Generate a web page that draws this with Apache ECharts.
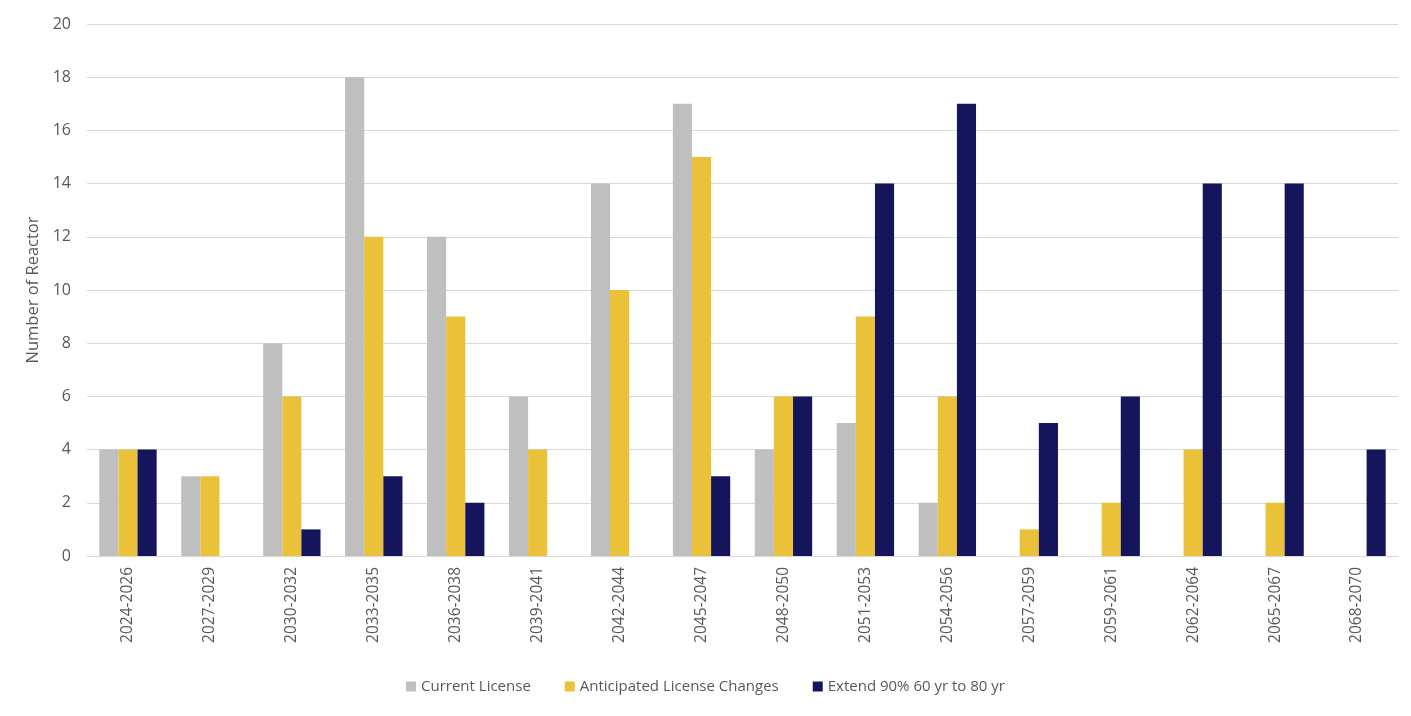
<!DOCTYPE html>
<html><head><meta charset="utf-8">
<script src="https://cdn.jsdelivr.net/npm/echarts@6/dist/echarts.min.js"></script>
<style>html,body{margin:0;padding:0;background:#fff}#c{width:1411px;height:716px}</style>
</head><body><div id="c"></div>
<script>
const categories = ["2024-2026","2027-2029","2030-2032","2033-2035","2036-2038","2039-2041","2042-2044","2045-2047","2048-2050","2051-2053","2054-2056","2057-2059","2059-2061","2062-2064","2065-2067","2068-2070"];
const currentLicense = [4,3,8,18,12,6,14,17,4,5,2,0,0,0,0,0];
const anticipated = [4,3,6,12,9,4,10,15,6,9,6,1,2,4,2,0];
const extend90 = [4,0,1,3,2,0,0,3,6,14,17,5,6,14,14,4];
const yTicks = {min:0,max:20,interval:2};
const font = "'Open Sans', 'Liberation Sans', sans-serif";
const chart = echarts.init(document.getElementById('c'));
chart.setOption({
  animation:false,
  textStyle:{fontFamily:font},
  grid:{left:87,right:13,top:24,bottom:160},
  legend:{bottom:17,left:'center',itemWidth:10,itemHeight:10,itemGap:34,icon:'rect',
    textStyle:{color:'#595959',fontSize:15,fontFamily:font},
    data:['Current License','Anticipated License Changes','Extend 90% 60 yr to 80 yr']},
  xAxis:{type:'category',data:categories,
    axisLine:{lineStyle:{color:'#D9D9D9',width:1}},axisTick:{show:false},
    axisLabel:{rotate:90,color:'#595959',fontSize:15.5,margin:11,fontFamily:font}},
  yAxis:{type:'value',min:yTicks.min,max:yTicks.max,interval:yTicks.interval,
    name:'Number of Reactor',nameLocation:'middle',nameGap:42,
    nameTextStyle:{color:'#595959',fontSize:16.5,fontFamily:font},
    axisLine:{show:false},axisTick:{show:false},
    axisLabel:{color:'#595959',fontSize:16,margin:16,fontFamily:font},
    splitLine:{lineStyle:{color:'#D9D9D9',width:1}}},
  series:[
    {name:'Current License',type:'bar',data:currentLicense,itemStyle:{color:'#BFBFBF'},barGap:'0%',barCategoryGap:'30%'},
    {name:'Anticipated License Changes',type:'bar',data:anticipated,itemStyle:{color:'#EAC23A'},barGap:'0%',barCategoryGap:'30%'},
    {name:'Extend 90% 60 yr to 80 yr',type:'bar',data:extend90,itemStyle:{color:'#15155C'},barGap:'0%',barCategoryGap:'30%'}
  ]
});
</script></body></html>
